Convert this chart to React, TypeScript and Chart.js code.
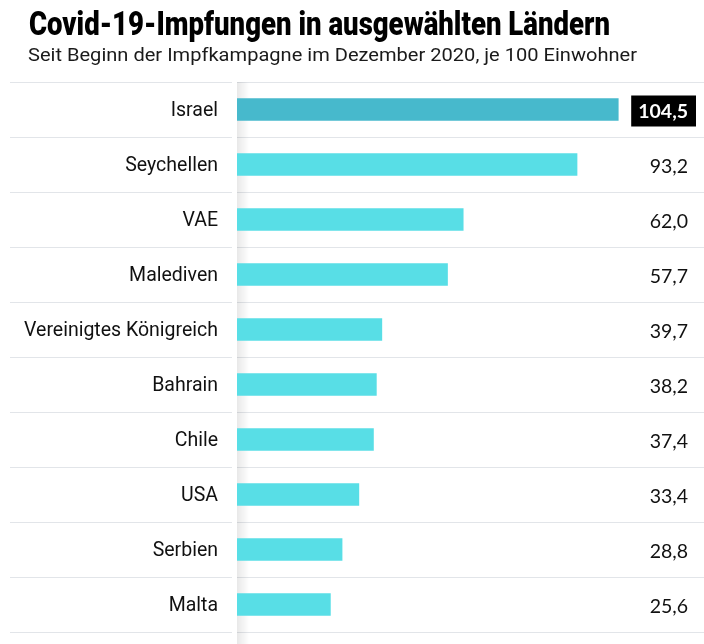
import React, { useEffect, useRef } from "react";
import { Chart, registerables } from "chart.js";

Chart.register(...registerables);

const countries = [
  "Israel",
  "Seychellen",
  "VAE",
  "Malediven",
  "Vereinigtes Königreich",
  "Bahrain",
  "Chile",
  "USA",
  "Serbien",
  "Malta",
];
const dosesPer100 = [104.5, 93.2, 62.0, 57.7, 39.7, 38.2, 37.4, 33.4, 28.8, 25.6];
const highlighted = "Israel";

const TITLE = "Covid-19-Impfungen in ausgewählten Ländern";
const SUBTITLE = "Seit Beginn der Impfkampagne im Dezember 2020, je 100 Einwohner";

const BAR_COLOR = "#58dee6";
const HIGHLIGHT_COLOR = "#47b9cc";
const RULE_COLOR = "#e2e5e9";
const LABEL_AREA = 237;

const fmt = (v: number) => v.toFixed(1).replace(".", ",");

// Draws text squeezed horizontally to a fixed width (condensed look).
function fitText(ctx: CanvasRenderingContext2D, text: string, x: number, y: number, width: number) {
  const w = ctx.measureText(text).width;
  ctx.save();
  ctx.translate(x, y);
  ctx.scale(width / w, 1);
  ctx.fillText(text, 0, 0);
  ctx.restore();
}

const tablePlugin = {
  id: "table",
  beforeDatasetsDraw(chart: any) {
    const { ctx, chartArea, scales } = chart;
    const yScale = scales.y;
    const step = (chartArea.bottom - chartArea.top) / countries.length;
    ctx.save();
    // row rules
    ctx.strokeStyle = RULE_COLOR;
    ctx.lineWidth = 1;
    for (let i = 0; i <= countries.length; i++) {
      const y = Math.round(yScale.getPixelForValue(0) - step / 2 + i * step) + 0.5;
      ctx.beginPath();
      ctx.moveTo(10, y);
      ctx.lineTo(chartArea.left - 5, y);
      ctx.moveTo(chartArea.left, y);
      ctx.lineTo(chart.width, y);
      ctx.stroke();
    }
    // soft shadow along the label column edge
    const g = ctx.createLinearGradient(chartArea.left, 0, chartArea.left + 12, 0);
    g.addColorStop(0, "rgba(0,0,0,0.09)");
    g.addColorStop(1, "rgba(0,0,0,0)");
    ctx.fillStyle = g;
    ctx.fillRect(chartArea.left, chartArea.top, 12, chart.height - chartArea.top);
    ctx.restore();
  },
  afterDatasetsDraw(chart: any) {
    const { ctx, scales } = chart;
    const yScale = scales.y;
    ctx.save();
    ctx.textBaseline = "middle";
    ctx.textAlign = "right";
    const right = 688;
    dosesPer100.forEach((v, i) => {
      const y = yScale.getPixelForValue(i) + 2;
      const txt = fmt(v);
      if (countries[i] === highlighted) {
        ctx.font = "bold 19.5px Lato";
        const w = ctx.measureText(txt).width;
        ctx.fillStyle = "#000";
        ctx.fillRect(right - w - 7, y - 16, w + 15, 31);
        ctx.fillStyle = "#fff";
        ctx.fillText(txt, right, y);
      } else {
        ctx.font = "19.5px Lato";
        ctx.fillStyle = "#111";
        ctx.fillText(txt, right, y);
      }
    });
    // heading
    ctx.textAlign = "left";
    ctx.textBaseline = "alphabetic";
    ctx.fillStyle = "#000";
    ctx.font = "900 33px Roboto";
    fitText(ctx, TITLE, 29, 35, 581);
    ctx.fillStyle = "#1a1a1a";
    ctx.font = "19px Roboto";
    fitText(ctx, SUBTITLE, 28, 61, 609);
    ctx.restore();
  },
};

export default function App() {
  const canvasRef = useRef<HTMLCanvasElement>(null);

  useEffect(() => {
    const chart = new Chart(canvasRef.current!, {
      type: "bar",
      data: {
        labels: countries,
        datasets: [
          {
            data: dosesPer100,
            backgroundColor: countries.map((c) => (c === highlighted ? HIGHLIGHT_COLOR : BAR_COLOR)),
            barThickness: 22,
            borderWidth: 0,
          },
        ],
      },
      options: {
        indexAxis: "y",
        animation: false,
        responsive: false,
        layout: { padding: { top: 82, bottom: 12, left: 0, right: 0 } },
        plugins: {
          legend: { display: false },
          tooltip: { enabled: false },
          title: { display: false },
        },
        scales: {
          x: { display: false, min: 0, max: 128 },
          y: {
            grid: { display: false },
            border: { display: false },
            ticks: {
              padding: 11,
              labelOffset: 2,
              color: "#111",
              font: { family: "Roboto", size: 19.5 },
            },
            afterFit(scale: any) {
              scale.width = LABEL_AREA;
              scale.paddingTop = 0;
              scale.paddingBottom = 0;
            },
          },
        },
      },
      plugins: [tablePlugin],
    });
    return () => chart.destroy();
  }, []);

  return (
    <div style={{ position: "absolute", left: 0, top: 0, width: 704, height: 644, background: "#fff" }}>
      <canvas ref={canvasRef} width={704} height={644} style={{ display: "block" }} />
    </div>
  );
}
